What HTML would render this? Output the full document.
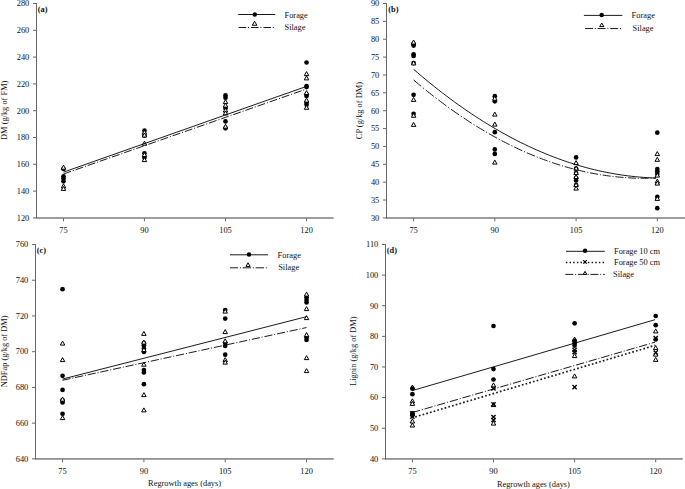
<!DOCTYPE html>
<html><head><meta charset="utf-8"><style>
html,body{margin:0;padding:0;background:#fff;}
svg{display:block;}
text{font-family:"Liberation Serif",serif;fill:#111;}
</style></head><body>
<svg width="685" height="489" viewBox="0 0 685 489">
<rect width="685" height="489" fill="#fff"/>
<path d="M36.5 3.1V217.9" stroke="#666" stroke-width="1" fill="none"/>
<path d="M36 218H333.6" stroke="#3c3c3c" stroke-width="1" fill="none"/>
<path d="M33 217.9H36.5" stroke="#666" stroke-width="1"/>
<text x="29.3" y="221" text-anchor="end" font-size="8.4">120</text>
<path d="M33 191.1H36.5" stroke="#666" stroke-width="1"/>
<text x="29.3" y="194" text-anchor="end" font-size="8.4">140</text>
<path d="M33 164.3H36.5" stroke="#666" stroke-width="1"/>
<text x="29.3" y="167" text-anchor="end" font-size="8.4">160</text>
<path d="M33 137.5H36.5" stroke="#666" stroke-width="1"/>
<text x="29.3" y="140" text-anchor="end" font-size="8.4">180</text>
<path d="M33 110.7H36.5" stroke="#666" stroke-width="1"/>
<text x="29.3" y="114" text-anchor="end" font-size="8.4">200</text>
<path d="M33 83.9H36.5" stroke="#666" stroke-width="1"/>
<text x="29.3" y="87" text-anchor="end" font-size="8.4">220</text>
<path d="M33 57.1H36.5" stroke="#666" stroke-width="1"/>
<text x="29.3" y="60" text-anchor="end" font-size="8.4">240</text>
<path d="M33 30.3H36.5" stroke="#666" stroke-width="1"/>
<text x="29.3" y="33" text-anchor="end" font-size="8.4">260</text>
<path d="M33 3.5H36.5" stroke="#666" stroke-width="1"/>
<text x="29.3" y="6" text-anchor="end" font-size="8.4">280</text>
<path d="M63.5 218.4V221.3" stroke="#666" stroke-width="1"/>
<text x="63.5" y="232.8" text-anchor="middle" font-size="8.4">75</text>
<path d="M144.45 218.4V221.3" stroke="#666" stroke-width="1"/>
<text x="144.45" y="232.8" text-anchor="middle" font-size="8.4">90</text>
<path d="M225.5 218.4V221.3" stroke="#666" stroke-width="1"/>
<text x="225.5" y="232.8" text-anchor="middle" font-size="8.4">105</text>
<path d="M306.55 218.4V221.3" stroke="#666" stroke-width="1"/>
<text x="306.55" y="232.8" text-anchor="middle" font-size="8.4">120</text>
<text x="37.8" y="11.9" text-anchor="start" font-size="8.4" font-weight="bold">(a)</text>
<text transform="translate(7.2 110.3) rotate(-90)" text-anchor="middle" font-size="8.4">DM (g/kg of FM)</text>
<circle cx="63.5" cy="169" r="2.35" fill="#000"/>
<circle cx="63.5" cy="176.4" r="2.35" fill="#000"/>
<circle cx="63.5" cy="178.5" r="2.35" fill="#000"/>
<circle cx="63.5" cy="181.3" r="2.35" fill="#000"/>
<circle cx="144.45" cy="130.7" r="2.35" fill="#000"/>
<circle cx="144.45" cy="135.6" r="2.35" fill="#000"/>
<circle cx="144.45" cy="153.3" r="2.35" fill="#000"/>
<circle cx="144.45" cy="157.8" r="2.35" fill="#000"/>
<circle cx="225.5" cy="95.4" r="2.35" fill="#000"/>
<circle cx="225.5" cy="97.8" r="2.35" fill="#000"/>
<circle cx="225.5" cy="108.3" r="2.35" fill="#000"/>
<circle cx="225.5" cy="121.4" r="2.35" fill="#000"/>
<circle cx="225.5" cy="128.3" r="2.35" fill="#000"/>
<circle cx="306.55" cy="62.5" r="2.35" fill="#000"/>
<circle cx="306.55" cy="86" r="2.35" fill="#000"/>
<circle cx="306.55" cy="87" r="2.35" fill="#000"/>
<circle cx="306.55" cy="94.5" r="2.35" fill="#000"/>
<circle cx="306.55" cy="96" r="2.35" fill="#000"/>
<circle cx="306.55" cy="102.7" r="2.35" fill="#000"/>
<circle cx="306.55" cy="104.8" r="2.35" fill="#000"/>
<path d="M63.5 165.2L65.75 169.2L61.25 169.2Z" fill="#fff" stroke="#000" stroke-width="1.0" stroke-linejoin="miter"/>
<path d="M63.5 183.9L65.75 187.9L61.25 187.9Z" fill="#fff" stroke="#000" stroke-width="1.0" stroke-linejoin="miter"/>
<path d="M63.5 186.4L65.75 190.4L61.25 190.4Z" fill="#fff" stroke="#000" stroke-width="1.0" stroke-linejoin="miter"/>
<path d="M144.45 130.2L146.7 134.2L142.2 134.2Z" fill="#fff" stroke="#000" stroke-width="1.0" stroke-linejoin="miter"/>
<path d="M144.45 133L146.7 137L142.2 137Z" fill="#fff" stroke="#000" stroke-width="1.0" stroke-linejoin="miter"/>
<path d="M144.45 141.2L146.7 145.2L142.2 145.2Z" fill="#fff" stroke="#000" stroke-width="1.0" stroke-linejoin="miter"/>
<path d="M144.45 152.6L146.7 156.6L142.2 156.6Z" fill="#fff" stroke="#000" stroke-width="1.0" stroke-linejoin="miter"/>
<path d="M144.45 157.6L146.7 161.6L142.2 161.6Z" fill="#fff" stroke="#000" stroke-width="1.0" stroke-linejoin="miter"/>
<path d="M225.5 99.6L227.75 103.6L223.25 103.6Z" fill="#fff" stroke="#000" stroke-width="1.0" stroke-linejoin="miter"/>
<path d="M225.5 103.1L227.75 107.1L223.25 107.1Z" fill="#fff" stroke="#000" stroke-width="1.0" stroke-linejoin="miter"/>
<path d="M225.5 108.1L227.75 112.1L223.25 112.1Z" fill="#fff" stroke="#000" stroke-width="1.0" stroke-linejoin="miter"/>
<path d="M225.5 110.9L227.75 114.9L223.25 114.9Z" fill="#fff" stroke="#000" stroke-width="1.0" stroke-linejoin="miter"/>
<path d="M225.5 124.2L227.75 128.2L223.25 128.2Z" fill="#fff" stroke="#000" stroke-width="1.0" stroke-linejoin="miter"/>
<path d="M306.55 71.6L308.8 75.6L304.3 75.6Z" fill="#fff" stroke="#000" stroke-width="1.0" stroke-linejoin="miter"/>
<path d="M306.55 75.9L308.8 79.9L304.3 79.9Z" fill="#fff" stroke="#000" stroke-width="1.0" stroke-linejoin="miter"/>
<path d="M306.55 90.6L308.8 94.6L304.3 94.6Z" fill="#fff" stroke="#000" stroke-width="1.0" stroke-linejoin="miter"/>
<path d="M306.55 98.1L308.8 102.1L304.3 102.1Z" fill="#fff" stroke="#000" stroke-width="1.0" stroke-linejoin="miter"/>
<path d="M306.55 105.3L308.8 109.3L304.3 109.3Z" fill="#fff" stroke="#000" stroke-width="1.0" stroke-linejoin="miter"/>
<path d="M63.5 172.15L306.6 86.35" stroke="#000" stroke-width="0.9" fill="none" stroke-linecap="butt"/>
<path d="M63.5 174L71 171.38M72.8 170.75L73.8 170.4M75.6 169.77L83.13 167.14M84.93 166.51L85.93 166.16M87.73 165.53L95.26 162.9M97.06 162.27L98.06 161.92M99.86 161.29L107.39 158.65M109.19 158.02L110.19 157.67M111.99 157.05L119.52 154.41M121.32 153.78L122.32 153.43M124.12 152.8L131.65 150.17M133.45 149.54L134.45 149.19M136.25 148.56L143.78 145.93M145.58 145.3L146.58 144.95M148.38 144.32L155.91 141.69M157.71 141.06L158.71 140.71M160.51 140.08L168.04 137.45M169.84 136.82L170.84 136.47M172.64 135.84L180.17 133.21M181.97 132.58L182.97 132.23M184.77 131.6L192.3 128.97M194.1 128.34L195.1 127.99M196.9 127.36L204.43 124.72M206.23 124.09L207.23 123.74M209.03 123.12L216.56 120.48M218.36 119.85L219.36 119.5M221.16 118.87L228.69 116.24M230.49 115.61L231.49 115.26M233.29 114.63L240.82 112M242.62 111.37L243.62 111.02M245.42 110.39L252.95 107.76M254.75 107.13L255.75 106.78M257.55 106.15L265.08 103.52M266.88 102.89L267.88 102.54M269.68 101.91L277.21 99.28M279.01 98.65L280.01 98.3M281.81 97.67L289.34 95.03M291.14 94.41L292.14 94.06M293.94 93.43L301.47 90.79M303.27 90.16L304.27 89.81M306.07 89.19L306.6 89" stroke="#000" stroke-width="0.9" fill="none"/>
<path d="M238.2 14.5L275.2 14.5" stroke="#000" stroke-width="0.9" fill="none" stroke-linecap="butt"/>
<circle cx="254.8" cy="14.5" r="2.25" fill="#000"/>
<text x="284.5" y="17.6" text-anchor="start" font-size="8.4">Forage</text>
<path d="M238.6 27.5L246.2 27.5M248 27.5L249 27.5M251 27.5L258.6 27.5M260.4 27.5L261.4 27.5M263.4 27.5L271 27.5M272.8 27.5L273.8 27.5" stroke="#000" stroke-width="0.9" fill="none"/>
<path d="M254.6 21.35L256.9 25.25L252.3 25.25Z" fill="#fff" stroke="#000" stroke-width="1.0" stroke-linejoin="miter"/>
<text x="284.5" y="30.2" text-anchor="start" font-size="8.4">Silage</text>
<path d="M386.5 3.1V217.9" stroke="#666" stroke-width="1" fill="none"/>
<path d="M386 218H685" stroke="#3c3c3c" stroke-width="1" fill="none"/>
<path d="M383 217.9H386.5" stroke="#666" stroke-width="1"/>
<text x="379.3" y="221" text-anchor="end" font-size="8.4">30</text>
<path d="M383 200.03H386.5" stroke="#666" stroke-width="1"/>
<text x="379.3" y="203" text-anchor="end" font-size="8.4">35</text>
<path d="M383 182.17H386.5" stroke="#666" stroke-width="1"/>
<text x="379.3" y="185" text-anchor="end" font-size="8.4">40</text>
<path d="M383 164.3H386.5" stroke="#666" stroke-width="1"/>
<text x="379.3" y="167" text-anchor="end" font-size="8.4">45</text>
<path d="M383 146.43H386.5" stroke="#666" stroke-width="1"/>
<text x="379.3" y="149" text-anchor="end" font-size="8.4">50</text>
<path d="M383 128.57H386.5" stroke="#666" stroke-width="1"/>
<text x="379.3" y="131" text-anchor="end" font-size="8.4">55</text>
<path d="M383 110.7H386.5" stroke="#666" stroke-width="1"/>
<text x="379.3" y="114" text-anchor="end" font-size="8.4">60</text>
<path d="M383 92.83H386.5" stroke="#666" stroke-width="1"/>
<text x="379.3" y="96" text-anchor="end" font-size="8.4">65</text>
<path d="M383 74.97H386.5" stroke="#666" stroke-width="1"/>
<text x="379.3" y="78" text-anchor="end" font-size="8.4">70</text>
<path d="M383 57.1H386.5" stroke="#666" stroke-width="1"/>
<text x="379.3" y="60" text-anchor="end" font-size="8.4">75</text>
<path d="M383 39.23H386.5" stroke="#666" stroke-width="1"/>
<text x="379.3" y="42" text-anchor="end" font-size="8.4">80</text>
<path d="M383 21.37H386.5" stroke="#666" stroke-width="1"/>
<text x="379.3" y="24" text-anchor="end" font-size="8.4">85</text>
<path d="M383 3.5H386.5" stroke="#666" stroke-width="1"/>
<text x="379.3" y="6" text-anchor="end" font-size="8.4">90</text>
<path d="M413.6 218.4V221.3" stroke="#666" stroke-width="1"/>
<text x="413.6" y="232.9" text-anchor="middle" font-size="8.4">75</text>
<path d="M494.8 218.4V221.3" stroke="#666" stroke-width="1"/>
<text x="494.8" y="232.9" text-anchor="middle" font-size="8.4">90</text>
<path d="M576.1 218.4V221.3" stroke="#666" stroke-width="1"/>
<text x="576.1" y="232.9" text-anchor="middle" font-size="8.4">105</text>
<path d="M657.3 218.4V221.3" stroke="#666" stroke-width="1"/>
<text x="657.3" y="232.9" text-anchor="middle" font-size="8.4">120</text>
<text x="388.2" y="12.3" text-anchor="start" font-size="8.4" font-weight="bold">(b)</text>
<text transform="translate(362.2 110.6) rotate(-90)" text-anchor="middle" font-size="8.4">CP (g/kg of DM)</text>
<circle cx="413.6" cy="44.2" r="2.35" fill="#000"/>
<circle cx="413.6" cy="45.6" r="2.35" fill="#000"/>
<circle cx="413.6" cy="54.3" r="2.35" fill="#000"/>
<circle cx="413.6" cy="56" r="2.35" fill="#000"/>
<circle cx="413.6" cy="63.1" r="2.35" fill="#000"/>
<circle cx="413.6" cy="94.8" r="2.35" fill="#000"/>
<circle cx="413.6" cy="113.8" r="2.35" fill="#000"/>
<circle cx="494.8" cy="96.2" r="2.35" fill="#000"/>
<circle cx="494.8" cy="101.3" r="2.35" fill="#000"/>
<circle cx="494.8" cy="132.2" r="2.35" fill="#000"/>
<circle cx="494.8" cy="149.4" r="2.35" fill="#000"/>
<circle cx="494.8" cy="153.9" r="2.35" fill="#000"/>
<circle cx="576.1" cy="157.4" r="2.35" fill="#000"/>
<circle cx="576.1" cy="168.5" r="2.35" fill="#000"/>
<circle cx="576.1" cy="173" r="2.35" fill="#000"/>
<circle cx="576.1" cy="178" r="2.35" fill="#000"/>
<circle cx="576.1" cy="180.5" r="2.35" fill="#000"/>
<circle cx="576.1" cy="185" r="2.35" fill="#000"/>
<circle cx="657.3" cy="132.7" r="2.35" fill="#000"/>
<circle cx="657.3" cy="169" r="2.35" fill="#000"/>
<circle cx="657.3" cy="171.5" r="2.35" fill="#000"/>
<circle cx="657.3" cy="174" r="2.35" fill="#000"/>
<circle cx="657.3" cy="196.9" r="2.35" fill="#000"/>
<circle cx="657.3" cy="208.2" r="2.35" fill="#000"/>
<path d="M413.6 40L415.85 44L411.35 44Z" fill="#fff" stroke="#000" stroke-width="1.0" stroke-linejoin="miter"/>
<path d="M413.6 60.9L415.85 64.9L411.35 64.9Z" fill="#fff" stroke="#000" stroke-width="1.0" stroke-linejoin="miter"/>
<path d="M413.6 97.4L415.85 101.4L411.35 101.4Z" fill="#fff" stroke="#000" stroke-width="1.0" stroke-linejoin="miter"/>
<path d="M413.6 113.3L415.85 117.3L411.35 117.3Z" fill="#fff" stroke="#000" stroke-width="1.0" stroke-linejoin="miter"/>
<path d="M413.6 122.4L415.85 126.4L411.35 126.4Z" fill="#fff" stroke="#000" stroke-width="1.0" stroke-linejoin="miter"/>
<path d="M494.8 96.2L497.05 100.2L492.55 100.2Z" fill="#fff" stroke="#000" stroke-width="1.0" stroke-linejoin="miter"/>
<path d="M494.8 112.1L497.05 116.1L492.55 116.1Z" fill="#fff" stroke="#000" stroke-width="1.0" stroke-linejoin="miter"/>
<path d="M494.8 122.1L497.05 126.1L492.55 126.1Z" fill="#fff" stroke="#000" stroke-width="1.0" stroke-linejoin="miter"/>
<path d="M494.8 160.1L497.05 164.1L492.55 164.1Z" fill="#fff" stroke="#000" stroke-width="1.0" stroke-linejoin="miter"/>
<path d="M576.1 160.6L578.35 164.6L573.85 164.6Z" fill="#fff" stroke="#000" stroke-width="1.0" stroke-linejoin="miter"/>
<path d="M576.1 166.1L578.35 170.1L573.85 170.1Z" fill="#fff" stroke="#000" stroke-width="1.0" stroke-linejoin="miter"/>
<path d="M576.1 170.6L578.35 174.6L573.85 174.6Z" fill="#fff" stroke="#000" stroke-width="1.0" stroke-linejoin="miter"/>
<path d="M576.1 174.6L578.35 178.6L573.85 178.6Z" fill="#fff" stroke="#000" stroke-width="1.0" stroke-linejoin="miter"/>
<path d="M576.1 182.6L578.35 186.6L573.85 186.6Z" fill="#fff" stroke="#000" stroke-width="1.0" stroke-linejoin="miter"/>
<path d="M576.1 186.1L578.35 190.1L573.85 190.1Z" fill="#fff" stroke="#000" stroke-width="1.0" stroke-linejoin="miter"/>
<path d="M657.3 151.6L659.55 155.6L655.05 155.6Z" fill="#fff" stroke="#000" stroke-width="1.0" stroke-linejoin="miter"/>
<path d="M657.3 157.3L659.55 161.3L655.05 161.3Z" fill="#fff" stroke="#000" stroke-width="1.0" stroke-linejoin="miter"/>
<path d="M657.3 173.1L659.55 177.1L655.05 177.1Z" fill="#fff" stroke="#000" stroke-width="1.0" stroke-linejoin="miter"/>
<path d="M657.3 179.1L659.55 183.1L655.05 183.1Z" fill="#fff" stroke="#000" stroke-width="1.0" stroke-linejoin="miter"/>
<path d="M657.3 181.1L659.55 185.1L655.05 185.1Z" fill="#fff" stroke="#000" stroke-width="1.0" stroke-linejoin="miter"/>
<path d="M657.3 196.4L659.55 200.4L655.05 200.4Z" fill="#fff" stroke="#000" stroke-width="1.0" stroke-linejoin="miter"/>
<path d="M413.6 69.3L417.71 72.84L421.82 76.32L425.93 79.74L430.03 83.11L434.14 86.41L438.25 89.66L442.36 92.85L446.47 95.98L450.58 99.05L454.68 102.06L458.79 105.02L462.9 107.92L467.01 110.75L471.12 113.53L475.23 116.25L479.34 118.92L483.44 121.52L487.55 124.06L491.66 126.55L495.77 128.98L499.88 131.35L503.99 133.66L508.09 135.91L512.2 138.11L516.31 140.24L520.42 142.32L524.53 144.34L528.64 146.3L532.75 148.2L536.85 150.04L540.96 151.82L545.07 153.55L549.18 155.22L553.29 156.82L557.4 158.37L561.51 159.86L565.61 161.3L569.72 162.67L573.83 163.99L577.94 165.24L582.05 166.44L586.16 167.58L590.26 168.66L594.37 169.69L598.48 170.65L602.59 171.56L606.7 172.4L610.81 173.19L614.92 173.92L619.02 174.59L623.13 175.21L627.24 175.76L631.35 176.26L635.46 176.7L639.57 177.07L643.67 177.39L647.78 177.66L651.89 177.86L656 178" stroke="#000" stroke-width="0.9" fill="none"/>
<path d="M413.6 79.95L416.11 82.07L418.61 84.17L421.12 86.25M422.92 87.73L423.92 88.54M425.72 90L427.73 91.62L429.74 93.22L431.75 94.8L433.76 96.37M435.56 97.76L436.56 98.53M438.36 99.91L440.37 101.43L442.38 102.93L444.39 104.42L446.4 105.9M448.2 107.21L449.2 107.93M451 109.22L453.01 110.65L455.02 112.06L457.03 113.46L459.04 114.84M460.84 116.07L461.84 116.74M463.64 117.95L465.65 119.28L467.66 120.6L469.67 121.9L471.68 123.19M473.48 124.34L474.48 124.96M476.28 126.09L478.29 127.33L480.3 128.55L482.31 129.76L484.32 130.96M486.12 132.01L487.12 132.6M488.92 133.64L490.93 134.78L492.94 135.91L494.95 137.03L496.96 138.13M498.76 139.1L499.76 139.64M501.56 140.59L503.57 141.65L505.58 142.68L507.59 143.71L509.6 144.71M511.4 145.6L512.4 146.09M514.2 146.96L516.21 147.92L518.22 148.87L520.23 149.8L522.24 150.71M524.04 151.52L525.04 151.96M526.84 152.75L528.85 153.61L530.86 154.46L532.87 155.3L534.88 156.12M536.68 156.84L537.68 157.23M539.48 157.94L541.49 158.71L543.5 159.47L545.51 160.21L547.52 160.93M549.32 161.57L550.32 161.92M552.12 162.54L554.13 163.22L556.14 163.88L558.15 164.53L560.16 165.16M561.96 165.72L562.96 166.02M564.76 166.55L566.77 167.14L568.78 167.71L570.79 168.26L572.8 168.8M574.6 169.27L575.6 169.53M577.4 169.98L579.41 170.47L581.42 170.94L583.43 171.4L585.44 171.85M587.24 172.24L588.24 172.45M590.04 172.81L592.05 173.21L594.06 173.59L596.07 173.96L598.08 174.31M599.88 174.61L600.88 174.78M602.68 175.06L604.69 175.36L606.7 175.65L608.71 175.92L610.72 176.18M612.52 176.4L613.52 176.52M615.32 176.72L617.33 176.93L619.34 177.12L621.35 177.3L623.36 177.46M625.16 177.6L626.16 177.67M627.96 177.78L629.97 177.9L631.98 178L633.99 178.09L636 178.16M637.8 178.21L638.8 178.23M640.6 178.26L642.61 178.28L644.62 178.29L646.63 178.28L648.64 178.26M650.44 178.23L651.44 178.2M653.24 178.15L656 178.05" stroke="#000" stroke-width="0.9" fill="none"/>
<path d="M583.9 15.4L622.3 15.4" stroke="#000" stroke-width="0.9" fill="none" stroke-linecap="butt"/>
<circle cx="601.7" cy="15.1" r="2.25" fill="#000"/>
<text x="631.6" y="18" text-anchor="start" font-size="8.4">Forage</text>
<path d="M585 28.55L593 28.55M594.8 28.55L595.8 28.55M597.6 28.55L605.6 28.55M607.4 28.55L608.4 28.55M610.2 28.55L618.2 28.55M620 28.55L621 28.55" stroke="#000" stroke-width="0.9" fill="none"/>
<path d="M601.75 23L603.85 26.6L599.65 26.6Z" fill="#fff" stroke="#000" stroke-width="1.0" stroke-linejoin="miter"/>
<text x="632.6" y="30.6" text-anchor="start" font-size="8.4">Silage</text>
<path d="M35.5 244.1V458.85" stroke="#666" stroke-width="1" fill="none"/>
<path d="M35 458.95H333.7" stroke="#3c3c3c" stroke-width="1" fill="none"/>
<path d="M32 458.85H35.5" stroke="#666" stroke-width="1"/>
<text x="28.3" y="462" text-anchor="end" font-size="8.4">640</text>
<path d="M32 423.12H35.5" stroke="#666" stroke-width="1"/>
<text x="28.3" y="426" text-anchor="end" font-size="8.4">660</text>
<path d="M32 387.4H35.5" stroke="#666" stroke-width="1"/>
<text x="28.3" y="390" text-anchor="end" font-size="8.4">680</text>
<path d="M32 351.68H35.5" stroke="#666" stroke-width="1"/>
<text x="28.3" y="354" text-anchor="end" font-size="8.4">700</text>
<path d="M32 315.95H35.5" stroke="#666" stroke-width="1"/>
<text x="28.3" y="319" text-anchor="end" font-size="8.4">720</text>
<path d="M32 280.23H35.5" stroke="#666" stroke-width="1"/>
<text x="28.3" y="283" text-anchor="end" font-size="8.4">740</text>
<path d="M32 244.5H35.5" stroke="#666" stroke-width="1"/>
<text x="28.3" y="247" text-anchor="end" font-size="8.4">760</text>
<path d="M62.55 459.35V462.25" stroke="#666" stroke-width="1"/>
<text x="62.55" y="473.9" text-anchor="middle" font-size="8.4">75</text>
<path d="M143.9 459.35V462.25" stroke="#666" stroke-width="1"/>
<text x="143.9" y="473.9" text-anchor="middle" font-size="8.4">90</text>
<path d="M225.2 459.35V462.25" stroke="#666" stroke-width="1"/>
<text x="225.2" y="473.9" text-anchor="middle" font-size="8.4">105</text>
<path d="M306.55 459.35V462.25" stroke="#666" stroke-width="1"/>
<text x="306.55" y="473.9" text-anchor="middle" font-size="8.4">120</text>
<text x="36.8" y="253" text-anchor="start" font-size="8.4" font-weight="bold">(c)</text>
<text transform="translate(6.9 351.4) rotate(-90)" text-anchor="middle" font-size="8.4">NDFap (g/kg of DM)</text>
<text x="184.6" y="485.6" text-anchor="middle" font-size="8.4">Regrowth ages (days)</text>
<circle cx="62.55" cy="289.2" r="2.35" fill="#000"/>
<circle cx="62.55" cy="375.8" r="2.35" fill="#000"/>
<circle cx="62.55" cy="389.9" r="2.35" fill="#000"/>
<circle cx="62.55" cy="400" r="2.35" fill="#000"/>
<circle cx="62.55" cy="402.5" r="2.35" fill="#000"/>
<circle cx="62.55" cy="413.8" r="2.35" fill="#000"/>
<circle cx="143.9" cy="343" r="2.35" fill="#000"/>
<circle cx="143.9" cy="345.5" r="2.35" fill="#000"/>
<circle cx="143.9" cy="348.5" r="2.35" fill="#000"/>
<circle cx="143.9" cy="352" r="2.35" fill="#000"/>
<circle cx="143.9" cy="370" r="2.35" fill="#000"/>
<circle cx="143.9" cy="372.5" r="2.35" fill="#000"/>
<circle cx="143.9" cy="384.2" r="2.35" fill="#000"/>
<circle cx="225.2" cy="310" r="2.35" fill="#000"/>
<circle cx="225.2" cy="318.6" r="2.35" fill="#000"/>
<circle cx="225.2" cy="343" r="2.35" fill="#000"/>
<circle cx="225.2" cy="346" r="2.35" fill="#000"/>
<circle cx="225.2" cy="354.7" r="2.35" fill="#000"/>
<circle cx="306.55" cy="297.5" r="2.35" fill="#000"/>
<circle cx="306.55" cy="300" r="2.35" fill="#000"/>
<circle cx="306.55" cy="302.5" r="2.35" fill="#000"/>
<circle cx="306.55" cy="337.5" r="2.35" fill="#000"/>
<circle cx="306.55" cy="340" r="2.35" fill="#000"/>
<path d="M62.55 341.1L64.8 345.1L60.3 345.1Z" fill="#fff" stroke="#000" stroke-width="1.0" stroke-linejoin="miter"/>
<path d="M62.55 357.6L64.8 361.6L60.3 361.6Z" fill="#fff" stroke="#000" stroke-width="1.0" stroke-linejoin="miter"/>
<path d="M62.55 397.1L64.8 401.1L60.3 401.1Z" fill="#fff" stroke="#000" stroke-width="1.0" stroke-linejoin="miter"/>
<path d="M62.55 415.6L64.8 419.6L60.3 419.6Z" fill="#fff" stroke="#000" stroke-width="1.0" stroke-linejoin="miter"/>
<path d="M143.9 331.4L146.15 335.4L141.65 335.4Z" fill="#fff" stroke="#000" stroke-width="1.0" stroke-linejoin="miter"/>
<path d="M143.9 340.1L146.15 344.1L141.65 344.1Z" fill="#fff" stroke="#000" stroke-width="1.0" stroke-linejoin="miter"/>
<path d="M143.9 347.6L146.15 351.6L141.65 351.6Z" fill="#fff" stroke="#000" stroke-width="1.0" stroke-linejoin="miter"/>
<path d="M143.9 362.2L146.15 366.2L141.65 366.2Z" fill="#fff" stroke="#000" stroke-width="1.0" stroke-linejoin="miter"/>
<path d="M143.9 392.6L146.15 396.6L141.65 396.6Z" fill="#fff" stroke="#000" stroke-width="1.0" stroke-linejoin="miter"/>
<path d="M143.9 407.9L146.15 411.9L141.65 411.9Z" fill="#fff" stroke="#000" stroke-width="1.0" stroke-linejoin="miter"/>
<path d="M225.2 309.1L227.45 313.1L222.95 313.1Z" fill="#fff" stroke="#000" stroke-width="1.0" stroke-linejoin="miter"/>
<path d="M225.2 329.6L227.45 333.6L222.95 333.6Z" fill="#fff" stroke="#000" stroke-width="1.0" stroke-linejoin="miter"/>
<path d="M225.2 338.8L227.45 342.8L222.95 342.8Z" fill="#fff" stroke="#000" stroke-width="1.0" stroke-linejoin="miter"/>
<path d="M225.2 357.6L227.45 361.6L222.95 361.6Z" fill="#fff" stroke="#000" stroke-width="1.0" stroke-linejoin="miter"/>
<path d="M225.2 360.1L227.45 364.1L222.95 364.1Z" fill="#fff" stroke="#000" stroke-width="1.0" stroke-linejoin="miter"/>
<path d="M306.55 292.1L308.8 296.1L304.3 296.1Z" fill="#fff" stroke="#000" stroke-width="1.0" stroke-linejoin="miter"/>
<path d="M306.55 306.6L308.8 310.6L304.3 310.6Z" fill="#fff" stroke="#000" stroke-width="1.0" stroke-linejoin="miter"/>
<path d="M306.55 315.6L308.8 319.6L304.3 319.6Z" fill="#fff" stroke="#000" stroke-width="1.0" stroke-linejoin="miter"/>
<path d="M306.55 332.6L308.8 336.6L304.3 336.6Z" fill="#fff" stroke="#000" stroke-width="1.0" stroke-linejoin="miter"/>
<path d="M306.55 355.6L308.8 359.6L304.3 359.6Z" fill="#fff" stroke="#000" stroke-width="1.0" stroke-linejoin="miter"/>
<path d="M306.55 368.6L308.8 372.6L304.3 372.6Z" fill="#fff" stroke="#000" stroke-width="1.0" stroke-linejoin="miter"/>
<path d="M62.55 379.07L306.55 316.66" stroke="#000" stroke-width="0.9" fill="none" stroke-linecap="butt"/>
<path d="M62.55 380.26L70.5 378.54M72.3 378.15L73.3 377.94M75.1 377.55L83.12 375.82M84.92 375.43L85.92 375.21M87.72 374.82L95.74 373.09M97.54 372.7L98.54 372.49M100.34 372.1L108.36 370.36M110.16 369.98L111.16 369.76M112.96 369.37L120.98 367.64M122.78 367.25L123.78 367.03M125.58 366.64L133.6 364.91M135.4 364.52L136.4 364.31M138.2 363.92L146.22 362.19M148.02 361.8L149.02 361.58M150.82 361.19L158.84 359.46M160.64 359.07L161.64 358.85M163.44 358.47L171.46 356.73M173.26 356.34L174.26 356.13M176.06 355.74L184.08 354.01M185.88 353.62L186.88 353.4M188.68 353.01L196.7 351.28M198.5 350.89L199.5 350.68M201.3 350.29L209.32 348.55M211.12 348.17L212.12 347.95M213.92 347.56L221.94 345.83M223.74 345.44L224.74 345.22M226.54 344.83L234.56 343.1M236.36 342.71L237.36 342.5M239.16 342.11L247.18 340.38M248.98 339.99L249.98 339.77M251.78 339.38L259.8 337.65M261.6 337.26L262.6 337.04M264.4 336.66L272.42 334.92M274.22 334.53L275.22 334.32M277.02 333.93L285.04 332.2M286.84 331.81L287.84 331.59M289.64 331.2L297.66 329.47M299.46 329.08L300.46 328.87M302.26 328.48L306.55 327.55" stroke="#000" stroke-width="0.9" fill="none"/>
<path d="M230 254.8L268.1 254.8" stroke="#000" stroke-width="0.9" fill="none" stroke-linecap="butt"/>
<circle cx="249" cy="254.6" r="2.25" fill="#000"/>
<text x="277.6" y="258" text-anchor="start" font-size="8.4">Forage</text>
<path d="M230 267.8L238.1 267.8M239.9 267.8L240.9 267.8M242.7 267.8L251.05 267.8M252.85 267.8L253.85 267.8M255.65 267.8L264 267.8M265.8 267.8L266.8 267.8" stroke="#000" stroke-width="0.9" fill="none"/>
<path d="M248.05 262.8L250.15 266.4L245.95 266.4Z" fill="#fff" stroke="#000" stroke-width="1.0" stroke-linejoin="miter"/>
<text x="278.2" y="270.3" text-anchor="start" font-size="8.4">Silage</text>
<path d="M385.5 244.1V458.85" stroke="#666" stroke-width="1" fill="none"/>
<path d="M385 458.95H682.8" stroke="#3c3c3c" stroke-width="1" fill="none"/>
<path d="M382 458.85H385.5" stroke="#666" stroke-width="1"/>
<text x="378.3" y="462" text-anchor="end" font-size="8.4">40</text>
<path d="M382 428.23H385.5" stroke="#666" stroke-width="1"/>
<text x="378.3" y="431" text-anchor="end" font-size="8.4">50</text>
<path d="M382 397.61H385.5" stroke="#666" stroke-width="1"/>
<text x="378.3" y="400" text-anchor="end" font-size="8.4">60</text>
<path d="M382 366.99H385.5" stroke="#666" stroke-width="1"/>
<text x="378.3" y="370" text-anchor="end" font-size="8.4">70</text>
<path d="M382 336.36H385.5" stroke="#666" stroke-width="1"/>
<text x="378.3" y="339" text-anchor="end" font-size="8.4">80</text>
<path d="M382 305.74H385.5" stroke="#666" stroke-width="1"/>
<text x="378.3" y="309" text-anchor="end" font-size="8.4">90</text>
<path d="M382 275.12H385.5" stroke="#666" stroke-width="1"/>
<text x="378.3" y="278" text-anchor="end" font-size="8.4">100</text>
<path d="M382 244.5H385.5" stroke="#666" stroke-width="1"/>
<text x="378.3" y="247" text-anchor="end" font-size="8.4">110</text>
<path d="M412.4 459.35V462.25" stroke="#666" stroke-width="1"/>
<text x="412.4" y="473.9" text-anchor="middle" font-size="8.4">75</text>
<path d="M493.5 459.35V462.25" stroke="#666" stroke-width="1"/>
<text x="493.5" y="473.9" text-anchor="middle" font-size="8.4">90</text>
<path d="M574.6 459.35V462.25" stroke="#666" stroke-width="1"/>
<text x="574.6" y="473.9" text-anchor="middle" font-size="8.4">105</text>
<path d="M655.7 459.35V462.25" stroke="#666" stroke-width="1"/>
<text x="655.7" y="473.9" text-anchor="middle" font-size="8.4">120</text>
<text x="386.8" y="252.9" text-anchor="start" font-size="8.4" font-weight="bold">(d)</text>
<text transform="translate(355.8 351.2) rotate(-90)" text-anchor="middle" font-size="8.4">Lignin (g/kg of DM)</text>
<text x="533.4" y="486.8" text-anchor="middle" font-size="8.4">Regrowth ages (days)</text>
<path d="M412.4 385L414.65 389L410.15 389Z" fill="#fff" stroke="#000" stroke-width="1.0" stroke-linejoin="miter"/>
<path d="M412.4 398.8L414.65 402.8L410.15 402.8Z" fill="#fff" stroke="#000" stroke-width="1.0" stroke-linejoin="miter"/>
<path d="M412.4 401.4L414.65 405.4L410.15 405.4Z" fill="#fff" stroke="#000" stroke-width="1.0" stroke-linejoin="miter"/>
<path d="M412.4 419L414.65 423L410.15 423Z" fill="#fff" stroke="#000" stroke-width="1.0" stroke-linejoin="miter"/>
<path d="M412.4 423L414.65 427L410.15 427Z" fill="#fff" stroke="#000" stroke-width="1.0" stroke-linejoin="miter"/>
<path d="M493.5 382.9L495.75 386.9L491.25 386.9Z" fill="#fff" stroke="#000" stroke-width="1.0" stroke-linejoin="miter"/>
<path d="M493.5 402.6L495.75 406.6L491.25 406.6Z" fill="#fff" stroke="#000" stroke-width="1.0" stroke-linejoin="miter"/>
<path d="M493.5 421.1L495.75 425.1L491.25 425.1Z" fill="#fff" stroke="#000" stroke-width="1.0" stroke-linejoin="miter"/>
<path d="M574.6 337.1L576.85 341.1L572.35 341.1Z" fill="#fff" stroke="#000" stroke-width="1.0" stroke-linejoin="miter"/>
<path d="M574.6 353.6L576.85 357.6L572.35 357.6Z" fill="#fff" stroke="#000" stroke-width="1.0" stroke-linejoin="miter"/>
<path d="M574.6 373.9L576.85 377.9L572.35 377.9Z" fill="#fff" stroke="#000" stroke-width="1.0" stroke-linejoin="miter"/>
<path d="M655.7 328.9L657.95 332.9L653.45 332.9Z" fill="#fff" stroke="#000" stroke-width="1.0" stroke-linejoin="miter"/>
<path d="M655.7 345.6L657.95 349.6L653.45 349.6Z" fill="#fff" stroke="#000" stroke-width="1.0" stroke-linejoin="miter"/>
<path d="M655.7 352.1L657.95 356.1L653.45 356.1Z" fill="#fff" stroke="#000" stroke-width="1.0" stroke-linejoin="miter"/>
<path d="M655.7 357.4L657.95 361.4L653.45 361.4Z" fill="#fff" stroke="#000" stroke-width="1.0" stroke-linejoin="miter"/>
<circle cx="412.4" cy="388.6" r="2.35" fill="#000"/>
<circle cx="412.4" cy="394.2" r="2.35" fill="#000"/>
<circle cx="412.4" cy="413.3" r="2.35" fill="#000"/>
<circle cx="412.4" cy="415.3" r="2.35" fill="#000"/>
<circle cx="493.5" cy="326" r="2.35" fill="#000"/>
<circle cx="493.5" cy="369.1" r="2.35" fill="#000"/>
<circle cx="493.5" cy="379.5" r="2.35" fill="#000"/>
<circle cx="574.6" cy="323.3" r="2.35" fill="#000"/>
<circle cx="574.6" cy="340.8" r="2.35" fill="#000"/>
<circle cx="574.6" cy="343.2" r="2.35" fill="#000"/>
<circle cx="574.6" cy="345.6" r="2.35" fill="#000"/>
<circle cx="655.7" cy="316" r="2.35" fill="#000"/>
<circle cx="655.7" cy="325.2" r="2.35" fill="#000"/>
<circle cx="655.7" cy="339.5" r="2.35" fill="#000"/>
<path d="M410.3 411.3L414.5 415.5M414.5 411.3L410.3 415.5" stroke="#000" stroke-width="1.35" fill="none"/>
<path d="M410.3 414.5L414.5 418.7M414.5 414.5L410.3 418.7" stroke="#000" stroke-width="1.35" fill="none"/>
<path d="M491.4 386.4L495.6 390.6M495.6 386.4L491.4 390.6" stroke="#000" stroke-width="1.35" fill="none"/>
<path d="M491.4 402.2L495.6 406.4M495.6 402.2L491.4 406.4" stroke="#000" stroke-width="1.35" fill="none"/>
<path d="M491.4 414.9L495.6 419.1M495.6 414.9L491.4 419.1" stroke="#000" stroke-width="1.35" fill="none"/>
<path d="M491.4 417.9L495.6 422.1M495.6 417.9L491.4 422.1" stroke="#000" stroke-width="1.35" fill="none"/>
<path d="M572.5 347.7L576.7 351.9M576.7 347.7L572.5 351.9" stroke="#000" stroke-width="1.35" fill="none"/>
<path d="M572.5 350.1L576.7 354.3M576.7 350.1L572.5 354.3" stroke="#000" stroke-width="1.35" fill="none"/>
<path d="M572.5 385L576.7 389.2M576.7 385L572.5 389.2" stroke="#000" stroke-width="1.35" fill="none"/>
<path d="M653.6 335.9L657.8 340.1M657.8 335.9L653.6 340.1" stroke="#000" stroke-width="1.35" fill="none"/>
<path d="M653.6 350.4L657.8 354.6M657.8 350.4L653.6 354.6" stroke="#000" stroke-width="1.35" fill="none"/>
<path d="M412.4 390.57L655 319.68" stroke="#000" stroke-width="0.9" fill="none" stroke-linecap="butt"/>
<path d="M412.4 412.5L420 410.3M421.8 409.78L422.8 409.49M424.6 408.96L432.62 406.64M434.42 406.12L435.42 405.83M437.22 405.31L445.24 402.98M447.04 402.46L448.04 402.17M449.84 401.65L457.86 399.33M459.66 398.81L460.66 398.52M462.46 397.99L470.48 395.67M472.28 395.15L473.28 394.86M475.08 394.34L483.1 392.01M484.9 391.49L485.9 391.2M487.7 390.68L495.72 388.36M497.52 387.83L498.52 387.54M500.32 387.02L508.34 384.7M510.14 384.18L511.14 383.89M512.94 383.37L520.96 381.04M522.76 380.52L523.76 380.23M525.56 379.71L533.58 377.38M535.38 376.86L536.38 376.57M538.18 376.05L546.2 373.73M548 373.21L549 372.92M550.8 372.39L558.82 370.07M560.62 369.55L561.62 369.26M563.42 368.74L571.44 366.41M573.24 365.89L574.24 365.6M576.04 365.08L584.06 362.76M585.86 362.24L586.86 361.95M588.66 361.42L596.68 359.1M598.48 358.58L599.48 358.29M601.28 357.77L609.3 355.44M611.1 354.92L612.1 354.63M613.9 354.11L621.92 351.79M623.72 351.26L624.72 350.97M626.52 350.45L634.54 348.13M636.34 347.61L637.34 347.32M639.14 346.8L647.16 344.47M648.96 343.95L649.96 343.66M651.76 343.14L655 342.2" stroke="#000" stroke-width="0.9" fill="none"/>
<path d="M412.1 417.84L413.19 417.51M415.22 416.91L416.87 416.42M418.9 415.81L420.55 415.32M422.58 414.71L424.23 414.22M426.26 413.61L427.91 413.12M429.94 412.52L431.59 412.02M433.62 411.42L435.27 410.93M437.3 410.32L438.95 409.83M440.98 409.22L442.62 408.73M444.65 408.12L446.3 407.63M448.33 407.03L449.98 406.53M452.01 405.93L453.66 405.44M455.69 404.83L457.34 404.34M459.37 403.73L461.02 403.24M463.05 402.63L464.7 402.14M466.73 401.54L468.38 401.04M470.41 400.44L472.06 399.95M474.09 399.34L475.74 398.85M477.77 398.24L479.42 397.75M481.44 397.14L483.09 396.65M485.12 396.05L486.77 395.55M488.8 394.95L490.45 394.46M492.48 393.85L494.13 393.36M496.16 392.75L497.81 392.26M499.84 391.66L501.49 391.16M503.52 390.56L505.17 390.06M507.2 389.46L508.85 388.97M510.88 388.36L512.53 387.87M514.55 387.26L516.21 386.77M518.23 386.17L519.88 385.67M521.91 385.07L523.56 384.58M525.59 383.97L527.24 383.48M529.27 382.87L530.92 382.38M532.95 381.77L534.6 381.28M536.63 380.68L538.28 380.18M540.31 379.58L541.96 379.09M543.99 378.48L545.64 377.99M547.67 377.38L549.32 376.89M551.34 376.28L553 375.79M555.02 375.19L556.67 374.69M558.7 374.09L560.35 373.6M562.38 372.99L564.03 372.5M566.06 371.89L567.71 371.4M569.74 370.79L571.39 370.3M573.42 369.7L575.07 369.2M577.1 368.6L578.75 368.11M580.78 367.5L582.43 367.01M584.46 366.4L586.11 365.91M588.13 365.3L589.79 364.81M591.81 364.21L593.46 363.71M595.49 363.11L597.14 362.62M599.17 362.01L600.82 361.52M602.85 360.91L604.5 360.42M606.53 359.82L608.18 359.32M610.21 358.72L611.86 358.22M613.89 357.62L615.54 357.13M617.57 356.52L619.22 356.03M621.25 355.42L622.9 354.93M624.92 354.33L626.58 353.83M628.6 353.23L630.25 352.74M632.28 352.13L633.93 351.64M635.96 351.03L637.61 350.54M639.64 349.93L641.29 349.44M643.32 348.84L644.97 348.34M647 347.74L648.65 347.25M650.68 346.64L652.33 346.15M654.36 345.54L655.3 345.26" stroke="#1a1a1a" stroke-width="1.65" fill="none"/>
<path d="M566 251.3L604.8 251.3" stroke="#000" stroke-width="0.9" fill="none" stroke-linecap="butt"/>
<circle cx="585.05" cy="250.8" r="2.25" fill="#000"/>
<text x="614" y="253.9" text-anchor="start" font-size="8.4">Forage 10 cm</text>
<path d="M565.85 262.4L567.35 262.4M569.52 262.4L571.02 262.4M573.19 262.4L574.69 262.4M576.86 262.4L578.36 262.4M580.53 262.4L582.03 262.4M584.2 262.4L585.7 262.4M587.87 262.4L589.37 262.4M591.54 262.4L593.04 262.4M595.21 262.4L596.71 262.4M598.88 262.4L600.38 262.4M602.55 262.4L604.05 262.4" stroke="#1a1a1a" stroke-width="1.5" fill="none"/>
<path d="M583.25 260.15L586.75 263.65M586.75 260.15L583.25 263.65" stroke="#000" stroke-width="1.15" fill="none"/>
<text x="614" y="265" text-anchor="start" font-size="8.4">Forage 50 cm</text>
<path d="M565.35 274.4L573.3 274.4M575.1 274.4L576.1 274.4M577.9 274.4L585.85 274.4M587.65 274.4L588.65 274.4M590.45 274.4L598.4 274.4M600.2 274.4L601.2 274.4M603 274.4L604.8 274.4" stroke="#000" stroke-width="0.9" fill="none"/>
<path d="M585 271.35L586.75 274.45L583.25 274.45Z" fill="#fff" stroke="#000" stroke-width="1.0" stroke-linejoin="miter"/>
<text x="613.1" y="277.1" text-anchor="start" font-size="8.4">Silage</text>
</svg></body></html>
